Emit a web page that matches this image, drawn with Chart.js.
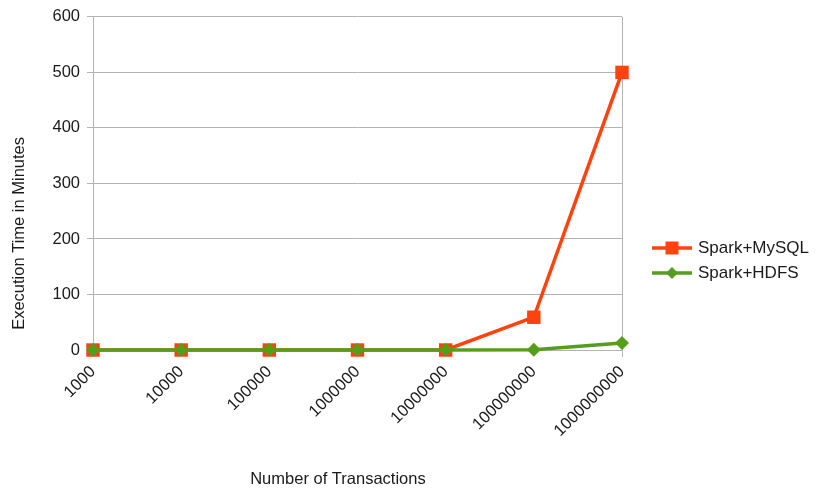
<!DOCTYPE html>
<html>
<head>
<meta charset="utf-8">
<script src="https://cdn.jsdelivr.net/npm/chart.js@4/dist/chart.umd.min.js"></script>
<style>
  html, body { margin: 0; padding: 0; background: #ffffff; }
  #wrap { width: 818px; height: 491px; }
</style>
</head>
<body>
<div id="wrap"><canvas id="c" width="818" height="491"></canvas></div>
<script>
// Transaction counts on the category axis
const transactions = ['1000', '10000', '100000', '1000000', '10000000', '100000000', '1000000000'];
// Execution time in minutes for each storage back end
const sparkMySQL = [0, 0, 0, 0, 0, 59, 500];
const sparkHDFS = [0, 0, 0, 0, 0, 0.5, 12.5];
// Value axis ticks
const yTicks = [0, 100, 200, 300, 400, 500, 600];

const xTitle = 'Number of Transactions';
const yTitle = 'Execution Time in Minutes';

const FONT = '"Liberation Sans", Arial, sans-serif';
const TEXT = '#1a1a1a';
const GRID = '#b3b3b3';

// Draws the axis titles and a line-with-marker legend on the right side
const decorations = {
  id: 'decorations',
  afterDraw(chart) {
    const ctx = chart.ctx;
    const area = chart.chartArea;
    ctx.save();
    ctx.fillStyle = TEXT;
    ctx.font = '16.5px ' + FONT;
    ctx.textAlign = 'center';
    ctx.textBaseline = 'middle';
    // x title
    ctx.fillText(xTitle, area.left + (area.right - area.left) * 0.463, chart.height - 12);
    // y title
    ctx.translate(19, area.top + (area.bottom - area.top) * 0.65);
    ctx.rotate(-Math.PI / 2);
    ctx.fillText(yTitle, 0, 0);
    ctx.restore();

    // legend
    ctx.save();
    const lx = area.right + 30;
    let ly = 248;
    chart.data.datasets.forEach((ds) => {
      ctx.strokeStyle = ds.borderColor;
      ctx.lineWidth = 3.5;
      ctx.beginPath();
      ctx.moveTo(lx, ly);
      ctx.lineTo(lx + 40, ly);
      ctx.stroke();
      ctx.fillStyle = ds.backgroundColor;
      ctx.beginPath();
      if (ds.pointStyle === 'rect') {
        ctx.rect(lx + 13.5, ly - 6.5, 13, 13);
      } else {
        ctx.moveTo(lx + 20, ly - 6);
        ctx.lineTo(lx + 26, ly);
        ctx.lineTo(lx + 20, ly + 6);
        ctx.lineTo(lx + 14, ly);
        ctx.closePath();
      }
      ctx.fill();
      ctx.fillStyle = TEXT;
      ctx.font = '17px ' + FONT;
      ctx.textAlign = 'left';
      ctx.textBaseline = 'middle';
      ctx.fillText(ds.label, lx + 46, ly);
      ly += 25;
    });
    ctx.restore();
  }
};

new Chart(document.getElementById('c'), {
  type: 'line',
  data: {
    labels: transactions,
    datasets: [
      {
        label: 'Spark+MySQL',
        data: sparkMySQL,
        borderColor: '#ff420e',
        backgroundColor: '#ff420e',
        borderWidth: 3.5,
        pointStyle: 'rect',
        pointRadius: 9.5,
        pointHoverRadius: 9.5,
        pointBorderWidth: 0,
        tension: 0,
        clip: false,
        order: 1
      },
      {
        label: 'Spark+HDFS',
        data: sparkHDFS,
        borderColor: '#579d1c',
        backgroundColor: '#579d1c',
        borderWidth: 3.5,
        pointStyle: 'rectRot',
        pointRadius: 7,
        pointHoverRadius: 7,
        pointBorderWidth: 0,
        tension: 0,
        clip: false,
        order: 0
      }
    ]
  },
  options: {
    responsive: false,
    animation: false,
    layout: { padding: { top: 14, right: 196, left: 0, bottom: 0 } },
    plugins: {
      legend: { display: false },
      tooltip: { enabled: false }
    },
    scales: {
      x: {
        offset: false,
        grid: {
          color: (c) => (c.index === 0 || c.index === transactions.length - 1) ? GRID : 'rgba(0,0,0,0)',
          lineWidth: 1,
          tickLength: 7,
          drawOnChartArea: true
        },
        border: { display: false },
        ticks: {
          color: TEXT,
          font: { family: FONT, size: 16.5 },
          minRotation: 45,
          maxRotation: 45,
          padding: 5,
          autoSkip: false
        },
        afterFit(scale) { scale.height = 141; }
      },
      y: {
        min: 0,
        max: 600,
        afterBuildTicks(scale) { scale.ticks = yTicks.map(v => ({ value: v })); },
        grid: { color: GRID, lineWidth: 1, tickLength: 6 },
        border: { display: false },
        ticks: {
          color: TEXT,
          font: { family: FONT, size: 16.5 },
          padding: 7
        },
        afterFit(scale) { scale.width = 93; }
      }
    }
  },
  plugins: [decorations]
});
</script>
</body>
</html>
